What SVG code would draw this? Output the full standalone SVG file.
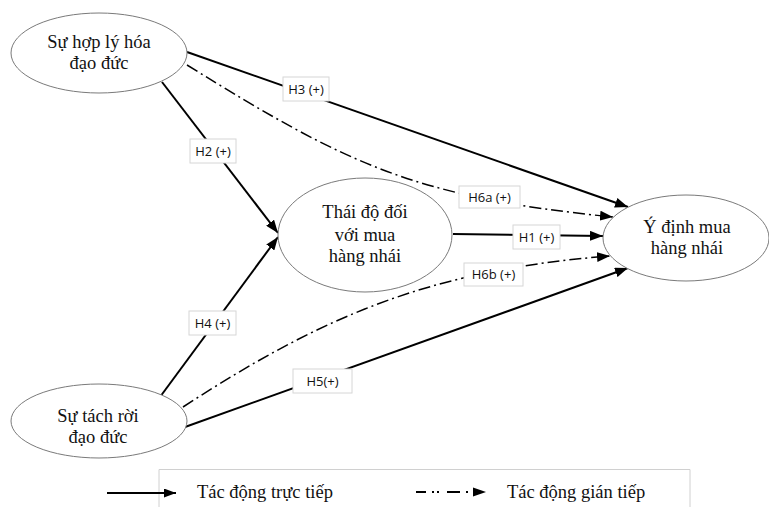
<svg xmlns="http://www.w3.org/2000/svg" width="769" height="507" viewBox="0 0 769 507">
<style>
.node ellipse{fill:#fff;stroke:#7a7a7a;stroke-width:1}
.nt{font-family:"Liberation Serif","Times New Roman",serif;font-size:18.5px;fill:#111;text-anchor:middle}
.solid{fill:none;stroke:#000;stroke-width:2;marker-end:url(#ah)}
.dd{fill:none;stroke:#000;stroke-width:1.5;stroke-dasharray:12 4 2 4;marker-end:url(#ah)}
.lb rect{fill:#fff;stroke:#d6d6d6;stroke-width:1}
.lb text{font-family:"Open Sans","Liberation Sans",sans-serif;font-size:13px;fill:#111;text-anchor:middle}
.lg{font-family:"Liberation Serif","Times New Roman",serif;font-size:18.5px;fill:#111}
</style>
<defs>
<marker id="ah" markerUnits="userSpaceOnUse" markerWidth="13" markerHeight="10" refX="13" refY="5" orient="auto">
<path d="M0,0 L13,5 L0,10 z" fill="#000"/>
</marker>
<marker id="ahs" markerUnits="userSpaceOnUse" markerWidth="12" markerHeight="9" refX="12" refY="4.5" orient="auto">
<path d="M0,0 L12,4.5 L0,9 z" fill="#000"/>
</marker>
</defs>
<rect width="769" height="507" fill="#fff"/>

<g id="connectors">
<path class="solid" d="M187,52 L628,207"/>
<path class="solid" d="M162,82 L278,233"/>
<path class="solid" d="M160,397 L278,237"/>
<path class="solid" d="M453,234 L603,236"/>
<path class="solid" d="M185,427 L628,268"/>
<path class="dd" d="M187,65 C347,164 413,197 613,217"/>
<path class="dd" d="M183,407 C323,316 430,270 610,256"/>
</g>

<g id="labels">
<g class="lb" id="lbl-h3"><rect x="283" y="77" width="46" height="24"/><text x="306" y="93.5">H3 (+)</text></g>
<g class="lb" id="lbl-h2"><rect x="190" y="139" width="46" height="24"/><text x="213" y="155.5">H2 (+)</text></g>
<g class="lb" id="lbl-h6a"><rect x="459" y="186" width="61" height="22"/><text x="489.5" y="201.5">H6a (+)</text></g>
<g class="lb" id="lbl-h1"><rect x="513" y="225" width="47" height="24"/><text x="536.5" y="241.5">H1 (+)</text></g>
<g class="lb" id="lbl-h6b"><rect x="464" y="263" width="59" height="23"/><text x="493.5" y="279">H6b (+)</text></g>
<g class="lb" id="lbl-h4"><rect x="189" y="311" width="47" height="24"/><text x="212.5" y="327.5">H4 (+)</text></g>
<g class="lb" id="lbl-h5"><rect x="293" y="369" width="59" height="24"/><text x="322.5" y="385.5">H5(+)</text></g>
</g>

<g class="node" id="n-hopLy">
<ellipse cx="99" cy="53" rx="88" ry="40"/>
<text class="nt" x="99" y="48">Sự hợp lý hóa</text>
<text class="nt" x="99" y="69">đạo đức</text>
</g>
<g class="node" id="n-thaiDo">
<ellipse cx="365" cy="235" rx="87" ry="57"/>
<text class="nt" x="365" y="218">Thái độ đối</text>
<text class="nt" x="365" y="241">với mua</text>
<text class="nt" x="365" y="262">hàng nhái</text>
</g>
<g class="node" id="n-yDinh">
<ellipse cx="686" cy="238" rx="83" ry="43"/>
<text class="nt" x="687" y="233">Ý định mua</text>
<text class="nt" x="687" y="254">hàng nhái</text>
</g>
<g class="node" id="n-tachRoi">
<ellipse cx="99" cy="421" rx="88" ry="37"/>
<text class="nt" x="98" y="422">Sự tách rời</text>
<text class="nt" x="98" y="443">đạo đức</text>
</g>

<g id="legend">
<path d="M159,507 L159,469.5 L690,469.5 L690,507" fill="none" stroke="#d0d0d0" stroke-width="1"/>
<path d="M107,493 L176,493" fill="none" stroke="#000" stroke-width="2" marker-end="url(#ahs)"/>
<text class="lg" x="197" y="498">Tác động trực tiếp</text>
<g fill="#000">
<rect x="416" y="491" width="10" height="2"/>
<rect x="432" y="491" width="2" height="2"/>
<rect x="437" y="491" width="2" height="2"/>
<rect x="447" y="491" width="13" height="2"/>
<rect x="466" y="491" width="2" height="2"/>
<path d="M473,487.5 L486,492 L473,496.5 z"/>
</g>
<text class="lg" x="507" y="498">Tác động gián tiếp</text>
</g>
</svg>
